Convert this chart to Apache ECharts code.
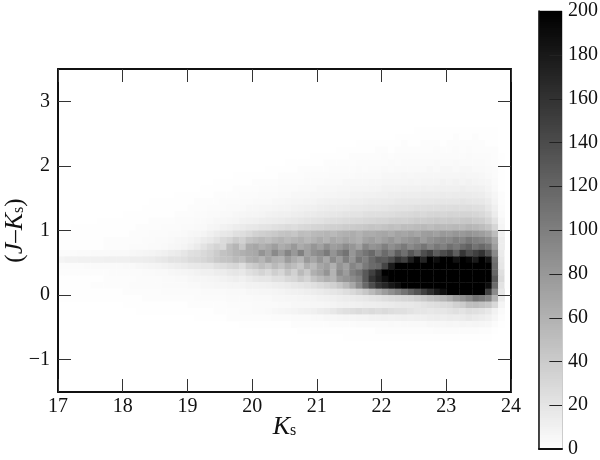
<!DOCTYPE html>
<html>
<head>
<meta charset="utf-8">
<script src="https://cdn.jsdelivr.net/npm/echarts@6/dist/echarts.min.js"></script>
<style>
  html, body { margin: 0; background: #fff; }
  #chart { width: 600px; height: 460px; }
</style>
</head>
<body>
<div id="chart"></div>
<script>
// counts per 0.1 x 0.1 cell; first value is Ks = 17.0, values saturate at 200
const none = [0, 0, 0, 0, 0, 0, 0, 0, 0, 0];
const row_p25 = [...none, ...none, ...none, ...none, ...none, 0,0,0,0,0,1,1,1,1,1, 1,1,1,1,1,1,1,1,0,0];
const row_p24 = [...none, ...none, ...none, ...none, ...none, 0,0,1,1,1,1,1,1,1,1, 1,2,1,1,2,1,1,1,0,0];
const row_p23 = [...none, ...none, ...none, ...none, 0,0,0,0,0,0,1,1,1,1, 1,1,1,2,1,1,2,2,2,1, 2,2,2,2,2,2,1,1,0,0];
const row_p22 = [...none, ...none, ...none, ...none, 0,0,0,1,1,1,1,1,1,2, 2,1,2,2,2,2,2,2,3,2, 2,3,2,3,2,2,2,2,0,0];
const row_p21 = [...none, ...none, ...none, 0,0,0,0,0,0,0,0,0,1, 1,1,1,1,1,2,2,2,2,2, 3,2,3,3,3,3,3,3,3,3, 3,3,3,4,3,3,3,2,1,0];
const row_p20 = [...none, ...none, ...none, 0,0,0,0,0,1,1,1,1,1, 1,2,2,2,2,2,3,3,3,3, 3,4,3,4,4,4,4,4,5,4, 4,5,4,4,4,4,3,2,1,0];
const row_p19 = [...none, ...none, ...none, 0,0,1,1,1,1,1,2,2,2, 2,2,3,3,3,3,4,3,4,4, 5,4,5,5,5,5,5,6,5,6, 6,5,6,6,5,5,4,3,1,0];
const row_p18 = [...none, ...none, 0,0,0,0,0,0,0,1,1,1, 1,1,1,1,2,2,2,2,3,3, 3,3,4,4,4,4,5,5,5,5, 6,6,6,7,6,7,7,7,7,7, 7,7,8,7,7,6,5,3,1,0];
const row_p17 = [...none, ...none, 0,0,0,0,1,1,1,1,1,1, 2,2,2,2,3,3,3,3,4,4, 4,5,5,5,6,6,6,6,7,7, 8,8,8,8,9,8,9,9,9,10, 9,10,9,10,9,8,7,4,1,0];
const row_p16 = [...none, ...none, 0,0,1,1,1,1,1,2,2,2, 2,3,3,3,4,4,4,5,5,5, 6,6,6,7,7,8,8,8,9,9, 10,10,10,11,11,11,12,11,12,12, 12,12,13,12,12,11,9,5,1,0];
const row_p15 = [...none, 0,0,0,0,0,0,0,0,1,1, 1,1,1,1,2,2,2,2,3,3, 3,4,4,4,5,5,6,6,6,7, 7,8,8,9,9,10,10,11,11,12, 12,13,13,14,14,14,15,15,15,16, 15,16,16,16,15,14,11,7,2,0];
const row_p14 = [...none, 0,0,0,0,1,1,1,1,1,1, 1,2,2,2,2,3,3,3,4,4, 5,5,5,6,6,7,8,8,9,9, 10,11,11,12,12,13,13,14,15,15, 16,16,17,18,18,18,19,19,20,20, 20,20,21,20,19,18,15,9,2,0];
const row_p13 = [...none, 0,0,0,1,1,1,1,1,1,1, 2,2,2,3,3,3,4,4,5,6, 6,7,7,8,9,9,10,11,12,12, 13,14,15,15,16,17,17,18,19,19, 20,21,22,22,23,24,24,25,25,26, 26,27,26,27,25,24,19,12,3,0];
const row_p12 = [0,0,0,0,0,0,0,0,0,0, 1,1,1,1,1,1,1,1,2,2, 2,3,3,4,4,5,5,6,7,8, 8,9,10,11,12,12,13,14,16,16, 17,18,19,20,21,22,22,24,25,25, 26,27,28,29,30,31,30,32,33,32, 34,33,34,34,32,30,25,15,4,0];
const row_p11 = [0,0,0,0,0,0,1,1,1,1, 1,1,1,1,2,2,2,2,3,3, 3,4,4,5,6,6,7,8,10,11, 12,13,14,15,16,17,18,20,21,22, 23,25,26,27,28,29,30,31,32,34, 34,36,37,36,38,40,39,41,42,41, 42,41,43,44,41,39,33,22,6,0];
const row_p10 = [0,0,1,1,1,1,1,1,1,1, 1,1,2,2,2,2,3,3,3,4, 4,5,5,7,8,10,12,14,16,18, 19,21,22,24,26,28,27,30,31,33, 34,36,37,38,40,41,42,44,46,45, 47,50,48,52,51,53,55,52,56,54, 54,56,54,58,56,52,46,32,8,0];
const row_p09 = [1,1,1,1,1,1,1,1,1,1, 1,2,2,2,3,3,3,4,4,5, 6,7,9,12,15,18,20,24,26,30, 35,38,40,42,46,48,45,52,50,54, 56,58,55,60,62,64,60,66,65,68, 70,66,72,70,74,70,76,78,74,80, 78,82,80,84,80,76,70,52,12,0];
const row_p08 = [1,1,1,1,1,1,1,2,2,2, 2,2,2,3,3,4,4,5,6,7, 9,11,15,17,22,28,32,40,36,46, 50,54,50,56,60,54,58,62,56,60, 66,60,68,64,70,66,62,72,76,70, 76,82,74,80,84,88,78,86,90,94, 92,100,96,106,100,96,88,68,14,0];
const row_p07 = [1,1,1,1,1,1,1,2,2,2, 2,3,3,3,4,4,5,6,7,9, 12,16,22,28,34,30,50,58,44,66, 70,62,68,76,64,70,80,66,72,82, 74,88,76,80,90,82,72,94,84,88, 100,88,96,104,92,100,108,96,106,100, 112,104,116,124,110,118,108,76,14,0];
const row_p06 = [3,3,3,4,4,4,4,4,5,5, 5,6,7,8,9,10,12,14,16,20, 24,26,30,34,40,48,52,58,62,66, 68,84,72,92,78,96,80,100,74,86, 92,104,84,100,110,82,98,108,118,100, 116,104,126,112,132,118,138,150,128,140, 150,126,158,140,150,160,136,92,16,1];
const row_p05 = [9,10,10,11,11,11,11,12,12,12, 12,13,13,14,15,17,19,22,22,24, 28,30,32,36,42,46,48,54,50,62, 66,58,72,62,60,78,66,58,80,70, 84,68,92,78,100,84,108,100,118,130, 128,140,160,150,176,196,172,200,190,200, 200,186,200,194,180,200,185,110,18,1];
const row_p04 = [3,3,3,3,4,4,4,4,4,4, 5,5,6,7,8,9,10,12,13,15, 17,18,20,20,24,26,30,32,26,38, 42,50,44,54,46,58,52,44,62,54, 70,76,62,84,74,96,86,104,116,120, 146,180,200,200,200,200,200,200,200,200, 200,200,200,200,200,200,200,115,20,1];
const row_p03 = [2,2,2,2,2,2,2,2,3,3, 3,3,3,4,4,5,5,6,7,8, 9,10,12,12,14,15,18,20,18,24, 28,34,28,38,32,46,36,54,42,62, 70,84,60,92,78,100,110,130,150,170, 200,200,200,200,200,200,200,200,200,200, 200,200,200,200,200,200,200,120,25,1];
const row_p02 = [1,1,1,1,1,1,1,2,2,2, 2,2,3,3,3,3,4,4,5,5, 6,7,7,8,9,10,12,13,12,15, 18,20,20,24,24,30,32,40,34,46, 54,62,58,78,84,90,100,130,160,175, 190,200,200,200,200,200,200,200,200,200, 200,200,200,200,200,200,200,130,28,1];
const row_p01 = [1,1,1,1,1,2,2,2,2,2, 2,3,3,3,3,3,4,4,4,4, 5,5,6,6,7,7,8,8,9,10, 10,11,12,13,14,16,18,20,22,24, 28,32,36,44,54,68,90,118,140,160, 170,182,190,200,200,200,200,200,200,200, 200,200,200,200,200,200,190,115,22,1];
const row_p00 = [1,1,1,1,1,1,1,1,1,1, 2,2,2,2,2,2,3,3,3,3, 3,3,4,4,4,4,5,5,5,6, 6,7,7,8,9,10,11,12,13,14, 16,18,20,22,26,30,36,44,54,66, 78,88,98,110,122,134,150,164,178,190, 200,200,200,200,200,200,150,90,18,0];
const row_m01 = [1,1,1,1,1,1,1,1,1,1, 1,1,1,2,2,2,2,2,2,2, 2,3,3,3,3,3,4,4,4,4, 5,5,5,6,6,7,7,8,9,9, 10,11,12,13,15,16,17,19,21,23, 26,28,30,32,34,38,42,48,52,58, 66,78,86,96,110,104,96,60,14,0];
const row_m02 = [0,0,0,0,0,0,0,0,0,0, 1,1,1,1,1,1,1,1,1,1, 2,2,2,2,2,2,3,3,3,3, 4,4,4,4,5,5,6,6,6,7, 7,8,9,10,11,11,12,13,13,14, 15,16,17,18,18,20,22,24,26,28, 30,36,40,50,52,48,44,30,8,0];
const row_m03 = [0,0,0,0,0,0,0,0,0,0, 0,0,1,1,1,1,1,1,1,1, 1,1,1,1,2,2,2,2,3,3, 4,4,5,6,7,8,9,10,11,12, 14,16,18,22,24,26,28,26,28,26, 28,26,24,24,22,20,20,18,20,20, 22,24,22,26,24,22,18,10,4,0];
const row_m04 = [...none, 0,0,0,0,0,0,0,0,0,0, 0,1,1,1,1,1,2,2,2,2, 2,2,2,3,3,3,4,4,4,5, 5,6,6,7,8,8,9,9,10,10, 11,10,11,12,11,12,12,13,14,13, 15,14,16,18,16,14,12,7,2,0];
const row_m05 = [...none, ...none, 0,0,0,0,0,0,0,0,1,1, 1,1,1,1,1,1,2,2,2,2, 2,2,3,3,3,3,4,4,4,4, 4,5,4,5,5,5,5,6,6,6, 7,6,8,7,8,7,6,3,1,0];
const row_m06 = [...none, ...none, ...none, 0,0,0,0,0,0,0,1,1,1, 1,1,1,1,1,1,1,1,1,2, 2,2,2,2,2,2,2,2,3,3, 3,3,3,3,3,2,2,1,0,0];
const row_m07 = [...none, ...none, ...none, ...none, 0,0,0,0,1,1,1,1,1,1, 1,1,1,1,1,1,1,1,1,1, 1,1,1,1,1,1,1,0,0,0];

// rows top to bottom, each paired with the lower edge of its J-Ks bin
const rowBottoms = [2.5, 2.4, 2.3, 2.2, 2.1, 2.0, 1.9, 1.8, 1.7, 1.6, 1.5, 1.4, 1.3, 1.2, 1.1, 1.0, 0.9, 0.8, 0.7, 0.6, 0.5, 0.4, 0.3, 0.2, 0.1, 0.0, -0.1, -0.2, -0.3, -0.4, -0.5, -0.6, -0.7];
const rows = [row_p25, row_p24, row_p23, row_p22, row_p21, row_p20, row_p19, row_p18, row_p17, row_p16, row_p15, row_p14, row_p13, row_p12, row_p11, row_p10, row_p09, row_p08, row_p07, row_p06, row_p05, row_p04, row_p03, row_p02, row_p01, row_p00, row_m01, row_m02, row_m03, row_m04, row_m05, row_m06, row_m07];
const yTicks = [-1, 0, 1, 2, 3];
const barTicks = [20, 40, 60, 80, 100, 120, 140, 160, 180];
const binSize = 0.1;
const serif = '"Liberation Serif", "Times New Roman", serif';

const cells = [];
rows.forEach((row, i) => {
  row.forEach((v, c) => {
    if (v > 0) cells.push([17 + c * binSize, rowBottoms[i], v]);
  });
});

// one rect per count for the colour bar
const barCells = [];
for (let v = 0; v < 200; v++) barCells.push([0, v, v + 0.5]);

const renderCell = (params, api) => {
  const p = api.coord([api.value(0), api.value(1) + binSize]);
  const s = api.size([binSize, binSize]);
  return {
    type: 'rect',
    shape: { x: p[0], y: p[1], width: s[0] + 0.4, height: s[1] + 0.4 },
    style: { fill: api.visual('color') }
  };
};

const renderBarCell = (params, api) => {
  const p = api.coord([0, api.value(1) + 1]);
  const q = api.coord([1, api.value(1)]);
  return {
    type: 'rect',
    shape: { x: p[0], y: Math.round(p[1]), width: q[0] - p[0], height: Math.ceil(q[1] - p[1]) + 1 },
    style: { fill: api.visual('color') }
  };
};

// the bar's ticks sit inside it, so they go on top of the rects
const renderBarTick = (params, api) => {
  const a = api.coord([0.45, api.value(0)]);
  const b = api.coord([1, api.value(0)]);
  return {
    type: 'line',
    shape: { x1: a[0], y1: Math.round(a[1]) + 0.5, x2: b[0], y2: Math.round(b[1]) + 0.5 },
    style: { stroke: '#222', lineWidth: 1 }
  };
};

const frame = { show: true, onZero: false, lineStyle: { color: '#111', width: 2 } };
const innerTick = { show: true, inside: true, length: 13, lineStyle: { color: '#333', width: 1 } };
const tickLabel = { color: '#111', fontFamily: serif, fontSize: 20 };
const nameRich = {
  t: { fontFamily: serif, fontSize: 25, color: '#111' },
  i: { fontFamily: serif, fontSize: 26, fontStyle: 'italic', color: '#111' },
  s: { fontFamily: serif, fontSize: 16, color: '#111', padding: [8, 0, 0, 0] }
};

const myChart = echarts.init(document.getElementById('chart'), null, { renderer: 'canvas' });
myChart.setOption({
  animation: false,
  backgroundColor: '#fff',
  grid: [
    { left: 58, top: 69, width: 453, height: 323, outerBoundsMode: 'none' },
    { left: 539, top: 11, width: 23, height: 438, outerBoundsMode: 'none', show: true, borderColor: '#999', borderWidth: 1 }
  ],
  visualMap: {
    show: false,
    min: 0,
    max: 200,
    dimension: 2,
    seriesIndex: [0, 1],
    inRange: { color: ['#ffffff', '#000000'] }
  },
  xAxis: [
    {
      type: 'value', gridIndex: 0, position: 'bottom', min: 17, max: 24, interval: 1, z: 5,
      axisLine: frame, axisTick: innerTick, splitLine: { show: false },
      axisLabel: { ...tickLabel, margin: 5, showMinLabel: true, showMaxLabel: true },
      name: '{i|K}{s|s}', nameLocation: 'middle', nameGap: 22, nameMoveOverlap: false,
      nameTextStyle: { rich: nameRich }
    },
    {
      type: 'value', gridIndex: 0, position: 'top', min: 17, max: 24, interval: 1, z: 5,
      axisLine: frame, axisTick: innerTick, splitLine: { show: false }, axisLabel: { show: false }
    },
    {
      type: 'value', gridIndex: 1, position: 'bottom', min: 0, max: 1, z: 5,
      axisLine: frame, axisTick: { show: false }, splitLine: { show: false }, axisLabel: { show: false }
    }
  ],
  yAxis: [
    {
      type: 'value', gridIndex: 0, position: 'left', min: -1.5, max: 3.5, z: 5,
      axisLine: frame, splitLine: { show: false },
      axisTick: { ...innerTick, customValues: yTicks },
      axisLabel: {
        ...tickLabel, margin: 8, customValues: yTicks,
        formatter: (v) => String(v).replace('-', '−')
      },
      name: '{t|(}{i|J}{t|–}{i|K}{s|s}{t|)}', nameLocation: 'middle', nameGap: 30, nameMoveOverlap: false,
      nameTextStyle: { rich: nameRich }
    },
    {
      type: 'value', gridIndex: 0, position: 'right', min: -1.5, max: 3.5, z: 5,
      axisLine: frame, splitLine: { show: false },
      axisTick: { ...innerTick, customValues: yTicks },
      axisLabel: { show: false }
    },
    {
      type: 'value', gridIndex: 1, position: 'right', min: 0, max: 200, interval: 20, z: 5,
      axisLine: { show: true, lineStyle: { color: '#111', width: 1.5 } },
      axisTick: { show: false }, splitLine: { show: false },
      axisLabel: { ...tickLabel, margin: 6 }
    }
  ],
  series: [
    {
      type: 'custom', xAxisIndex: 0, yAxisIndex: 0, renderItem: renderCell,
      encode: { x: 0, y: 1 }, data: cells, clip: true, silent: true
    },
    {
      type: 'custom', xAxisIndex: 2, yAxisIndex: 2, renderItem: renderBarCell,
      encode: { y: 1 }, data: barCells, clip: true, silent: true
    },
    {
      type: 'custom', xAxisIndex: 2, yAxisIndex: 2, renderItem: renderBarTick, z: 3,
      encode: { y: 0 }, data: barTicks.map((v) => [v]), clip: false, silent: true
    }
  ]
});
</script>
</body>
</html>
